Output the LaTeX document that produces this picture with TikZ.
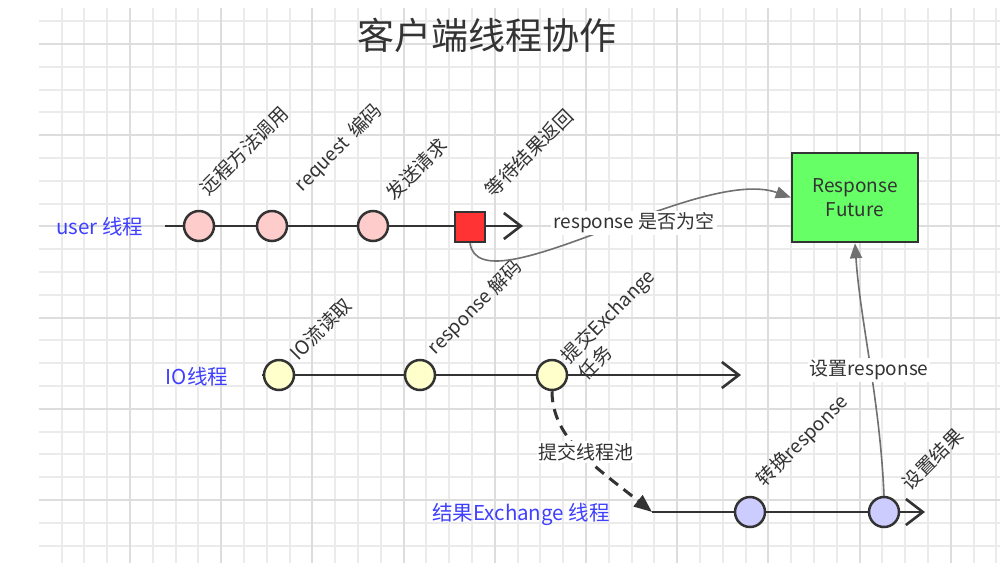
\documentclass[tikz,border=0pt]{standalone}
\usepackage{fontspec}
\setmainfont{Noto Sans CJK SC}
\usetikzlibrary{arrows.meta}
\definecolor{txt}{HTML}{333333}
\definecolor{lbl}{HTML}{3F3FFF}
\definecolor{gminor}{HTML}{EBEBEB}
\definecolor{gmajor}{HTML}{DDDDDD}
\definecolor{upink}{HTML}{FFCCCC}
\definecolor{uyel}{HTML}{FFFFCC}
\definecolor{ublue}{HTML}{CCCCFF}
\definecolor{ured}{HTML}{FF3333}
\definecolor{ugreen}{HTML}{66FF66}
\definecolor{conn}{HTML}{707070}
\tikzset{
  gridminor/.style={draw=gminor, line width=1.5pt},
  gridmajor/.style={draw=gmajor, line width=1.5pt},
  thread/.style={draw=txt, line width=2.6pt, -{Straight Barb[length=17pt,width=26pt]}},
  evt/.style={circle, draw=txt, line width=2.5pt, minimum size=30pt, inner sep=0pt},
  sq/.style={rectangle, draw=txt, line width=2.5pt, fill=ured, minimum size=30pt, inner sep=0pt},
  tlabel/.style={text=lbl, font=\fontsize{20.5}{24}\selectfont},
  rlabel/.style={text=txt, font=\fontsize{19}{24}\selectfont, rotate=45, anchor=south west, inner sep=1pt},
  clabel/.style={text=txt, font=\fontsize{19}{23}\selectfont, fill=white, inner sep=2pt},
  conncurve/.style={draw=conn, line width=1.6pt, -{Triangle[length=15pt,width=12pt]}},
  dashcurve/.style={draw=txt, line width=3pt, dash pattern=on 11pt off 7pt, -{Triangle[length=18pt,width=14pt]}}
}
\begin{document}
\begin{tikzpicture}[x=1pt,y=-1pt]
\useasboundingbox (0,0) rectangle (1000,571);
\fill[white] (0,0) rectangle (1000,571);
% grid
\begin{scope}
\clip (39,8) rectangle (1000,563);
\foreach \i in {1,...,42} { \draw[gridminor] ({round(38.8+22.8*\i)},8) -- ({round(38.8+22.8*\i)},563); }
\foreach \j in {0,...,24} { \draw[gridminor] (39,{round(21.2+22.8*\j)}) -- (1000,{round(21.2+22.8*\j)}); }
\foreach \i in {1,...,10} { \draw[gridmajor] ({round(38.8+91.2*\i)},8) -- ({round(38.8+91.2*\i)},563); }
\foreach \j in {0,...,5} { \draw[gridmajor] (39,{round(44+91.2*\j)}) -- (1000,{round(44+91.2*\j)}); }
\end{scope}

% title
\node[text=txt, font=\fontsize{37}{42}\selectfont] (title) at (487,35) {客户端线程协作};

% Response Future box
\node[rectangle, draw=txt, line width=2.5pt, fill=ugreen, minimum width=126pt, minimum height=89pt,
      text=txt, font=\fontsize{19}{24}\selectfont, align=center] (rf) at (855,197.5) {Response\\Future};

% user thread
\node[tlabel] (ulbl) at (100,227) {user 线程};
\coordinate (u0) at (165,226);
\coordinate (u1) at (523,226);
\draw[thread] (u0) -- (u1);
\node[evt, fill=upink] (u1c) at (199,226) {};
\node[evt, fill=upink] (u2c) at (272,226) {};
\node[evt, fill=upink] (u3c) at (373,226) {};
\node[sq] (usq) at (470,227) {};
\node[rlabel] (ut1) at (210,199) {远程方法调用};
\node[rlabel] (ut2) at (306,197) {request\ \ 编码};
\node[rlabel] (ut3) at (396,204) {发送请求};
\node[rlabel] (ut4) at (495,201) {等待结果返回};

% IO thread
\node[tlabel] (iolbl) at (197,377) {IO线程};
\coordinate (i0) at (262,375);
\coordinate (i1) at (741,375);
\draw[thread] (i0) -- (i1);
\node[evt, fill=uyel] (i1c) at (279,375) {};
\node[evt, fill=uyel] (i2c) at (420,375) {};
\node[evt, fill=uyel] (i3c) at (552,375) {};
\node[rlabel] (it1) at (300,364) {IO流读取};
\node[rlabel] (it2) at (439,360) {response 解码};
\node[rlabel, align=left] (it3) at (588,384) {提交Exchange\\任务};

% Exchange thread
\node[tlabel] (exlbl) at (521,514) {结果Exchange 线程};
\coordinate (e0) at (652,512);
\coordinate (e1) at (925,512);
\draw[thread] (e0) -- (e1);
\node[evt, fill=ublue] (e1c) at (750,512) {};
\node[evt, fill=ublue] (e2c) at (884,512) {};
\node[rlabel] (et1) at (768,492) {转换response};
\node[rlabel] (et2) at (912,494) {设置结果};

% connectors
\draw[conncurve] (usq.south) .. controls (480,310) and (700,165) .. (rf.west);
\node[clabel] (c1) at (634,223) {response 是否为空};

\draw[dashcurve] (i3c.south) .. controls (552,440) and (600,470) .. (e0);
\node[clabel] (c2) at (586,452) {提交线程池};

\draw[conncurve] (e2c.north) .. controls (880,400) and (860,320) .. (rf.south);
\node[clabel] (c3) at (869,370) {设置response};
\end{tikzpicture}
\end{document}
